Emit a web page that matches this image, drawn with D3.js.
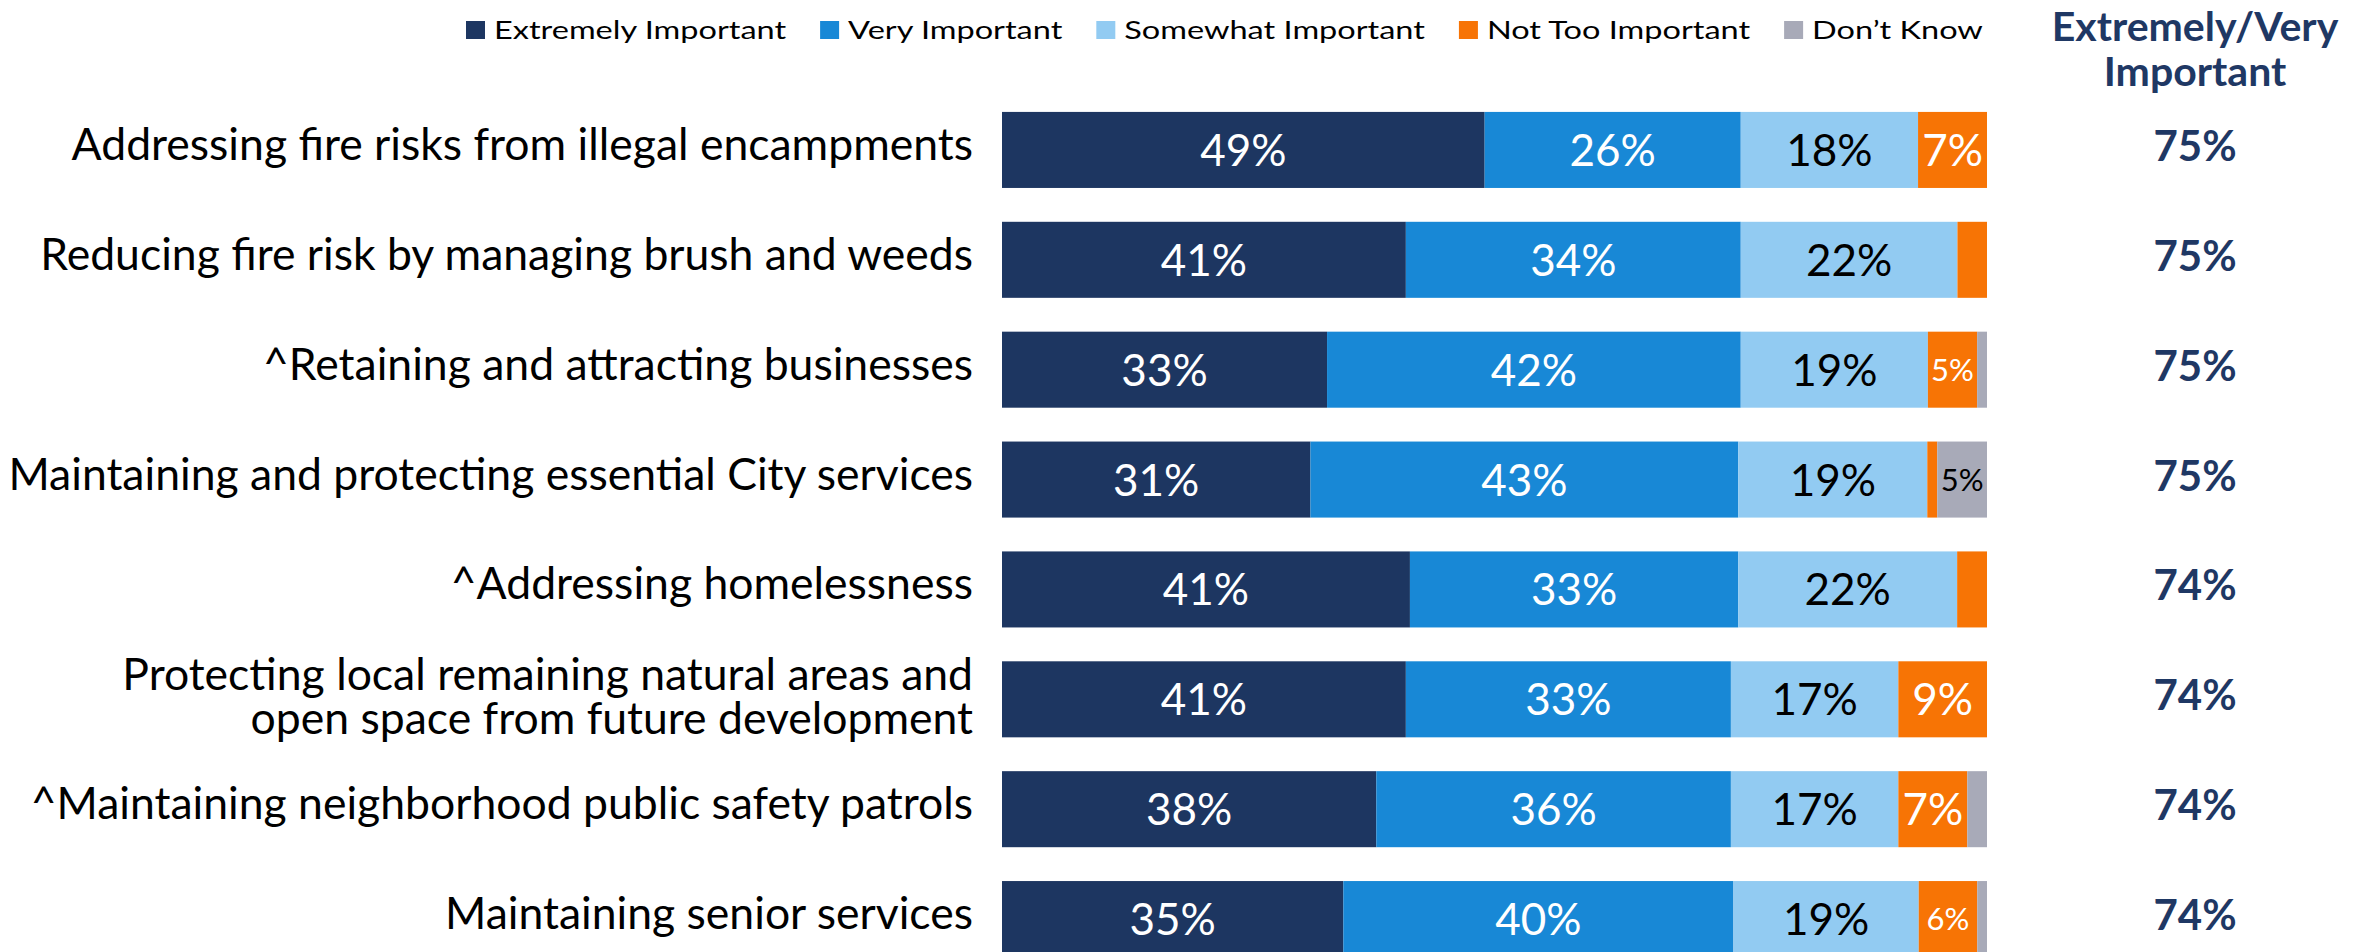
<!DOCTYPE html>
<html>
<head>
<meta charset="utf-8">
<script src="https://cdn.jsdelivr.net/npm/d3@7"></script>
<style>
  body { margin: 0; background: #fff; overflow: hidden; }
  text { font-family: Lato, 'Open Sans', sans-serif; }
</style>
</head>
<body>
<div id="chart"></div>
<script>
// survey items, top to bottom
const categories = [
  'Addressing fire risks from illegal encampments',
  'Reducing fire risk by managing brush and weeds',
  '^Retaining and attracting businesses',
  'Maintaining and protecting essential City services',
  '^Addressing homelessness',
  'Protecting local remaining natural areas and\nopen space from future development',
  '^Maintaining neighborhood public safety patrols',
  'Maintaining senior services'
]

const seriesNames = ['Extremely Important', 'Very Important', 'Somewhat Important', 'Not Too Important', 'Don\u2019t Know']
const colors = ['#1D3661', '#1888D6', '#92CBF2', '#F77405', '#A8AAB8']
const labelColors = ['#fff', '#fff', '#000', '#fff', '#000']

const extremely = [49, 41, 33, 31, 41, 41, 38, 35]
const very = [26, 34, 42, 43, 33, 33, 36, 40]
const somewhat = [18, 22, 19, 19, 22, 17, 17, 19]
const notToo = [7, 3, 5, 1, 3, 9, 7, 6]
const dontKnow = [0, 0, 1, 5, 0, 0, 2, 1]

// right hand column
const combined = [75, 75, 75, 75, 74, 74, 74, 74]

const width = 2377
const height = 952

let svg = d3
  .select('#chart')
  .append('svg')
  .attr('width', width)
  .attr('height', height)

let series = [extremely, very, somewhat, notToo, dontKnow]
let rows = categories.map((c, i) => {
  let r = { category: c }
  seriesNames.forEach((s, k) => (r[s] = series[k][i]))
  return r
})

let stack = d3.stack().keys(seriesNames).offset(d3.stackOffsetExpand)
let layers = stack(rows)

let x = d3.scaleLinear().domain([0, 1]).range([1002, 1987])
let y = d3
  .scaleBand()
  .domain(categories)
  .range([95, 974])
  .paddingInner(0.308)
  .paddingOuter(0.154)

let color = d3.scaleOrdinal().domain(seriesNames).range(colors)

// bars
let layer = svg
  .append('g')
  .selectAll('.layer')
  .data(layers)
  .enter()
  .append('g')
  .attr('class', 'layer')
  .attr('fill', d => color(d.key))

layer
  .selectAll('rect')
  .data(d => d)
  .enter()
  .append('rect')
  .attr('x', d => x(d[0]))
  .attr('y', d => y(d.data.category))
  .attr('width', d => x(d[1]) - x(d[0]))
  .attr('height', y.bandwidth())

// value labels inside segments
layers.forEach((l, k) => {
  svg
    .append('g')
    .selectAll('.val')
    .data(l.filter(d => d.data[l.key] >= 5))
    .enter()
    .append('text')
    .attr('class', 'val')
    .attr('x', d => (x(d[0]) + x(d[1])) / 2)
    .attr('y', d => y(d.data.category) + y.bandwidth() / 2 + (d.data[l.key] < 7 ? 11 : 16))
    .attr('text-anchor', 'middle')
    .attr('font-size', d => (d.data[l.key] < 7 ? 31 : 44))
    .attr('fill', labelColors[k])
    .text(d => d.data[l.key] + '%')
})

// row labels
let labels = svg
  .append('g')
  .selectAll('.cat')
  .data(categories)
  .enter()
  .append('text')
  .attr('class', 'cat')
  .attr('text-anchor', 'end')
  .attr('font-size', 44.5)
  .attr('fill', '#000')

labels.each(function(d) {
  let lines = d.split('\n')
  let cy = y(d) + y.bandwidth() / 2
  let t = d3.select(this)
  lines.forEach((line, i) => {
    t.append('tspan')
      .attr('x', 973)
      .attr('y', lines.length > 1 ? cy - 9 + i * 44 : cy + 10)
      .text(line)
  })
})

// combined column
svg
  .append('g')
  .selectAll('.tot')
  .data(combined)
  .enter()
  .append('text')
  .attr('class', 'tot')
  .attr('x', 2195)
  .attr('y', (d, i) => y(categories[i]) + y.bandwidth() / 2 + 11)
  .attr('text-anchor', 'middle')
  .attr('font-size', 42)
  .attr('font-weight', 'bold')
  .attr('fill', '#1F3864')
  .text(d => d + '%')

let header = svg
  .append('text')
  .attr('text-anchor', 'middle')
  .attr('font-size', 41)
  .attr('font-weight', 'bold')
  .attr('fill', '#1F3864')

header.append('tspan').attr('x', 2195).attr('y', 41).text('Extremely/Very')
header.append('tspan').attr('x', 2195).attr('y', 86).text('Important')

// legend (stretched wide like the original)
let stretch = 1.3
let legend = svg
  .append('g')
  .attr('class', 'legend')
  .attr('transform', 'translate(466,0) scale(' + stretch + ',1)')
let lx = 0
seriesNames.forEach((s, k) => {
  legend
    .append('rect')
    .attr('x', lx)
    .attr('y', 21)
    .attr('width', 19 / stretch)
    .attr('height', 18)
    .attr('fill', colors[k])
  let t = legend
    .append('text')
    .attr('x', lx + 28 / stretch)
    .attr('y', 39)
    .attr('font-size', 25)
    .attr('fill', '#000')
    .text(s)
  lx += (28 + 34) / stretch + t.node().getComputedTextLength()
})
</script>
</body>
</html>
